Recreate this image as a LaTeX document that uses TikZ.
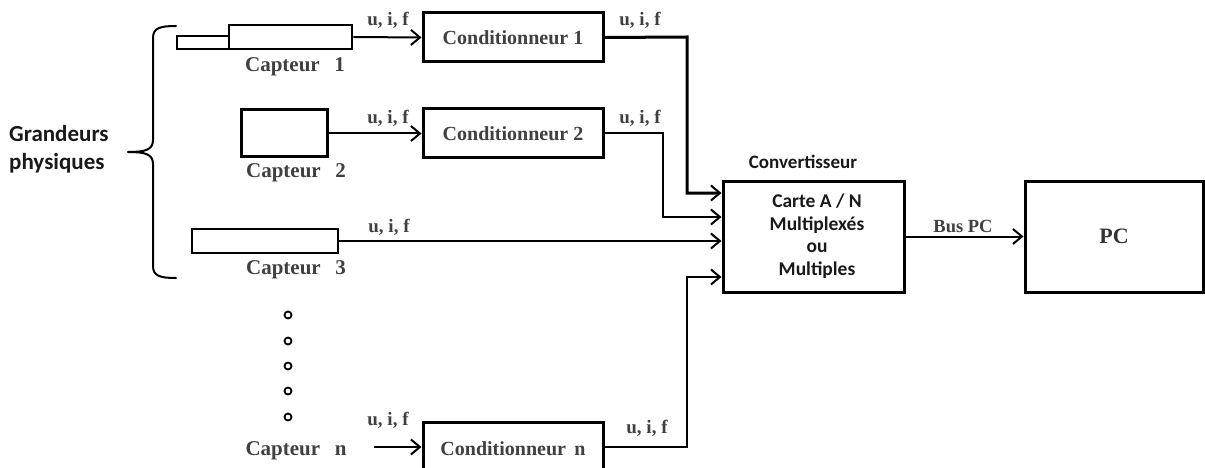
\documentclass[tikz,border=0pt]{standalone}
\usepackage{fontspec}
\setmainfont{Liberation Serif}
\newfontfamily\calib{Carlito}
\usetikzlibrary{arrows.meta,calc}

\tikzset{
  boxthick/.style={draw, line width=3pt, inner sep=0pt},
  condbox/.style={boxthick, minimum width=180pt, minimum height=49pt,
    font=\fontsize{20}{22}\selectfont\bfseries, text=black!75},
  sensorbox/.style={draw, line width=2.6pt, inner sep=0pt},
  wire/.style={line width=2pt},
  arr/.style={wire, -{Straight Barb[length=9pt,width=15pt,line width=2pt]}},
  sig/.style={font=\fontsize{19}{20}\selectfont\bfseries, text=black!75, inner sep=0pt},
  caplabel/.style={font=\fontsize{21}{22}\selectfont\bfseries, text=black!75, inner sep=0pt},
  sanslabel/.style={font=\calib\fontsize{19.5}{22.5}\selectfont\bfseries, text=black!90, inner sep=0pt},
  dot/.style={draw, circle, line width=1.8pt, minimum size=7pt, inner sep=0pt},
}

\begin{document}
\begin{tikzpicture}[x=1pt,y=-1pt]
\useasboundingbox (0,0) rectangle (1205,468);

% physical quantities and the brace that gathers the sensors
\node[sanslabel, font=\calib\fontsize{23}{28}\selectfont\bfseries, anchor=west, align=left]
  (gp) at (9,149) {Grandeurs\\physiques};
\draw[line width=2pt, line cap=round, line join=round]
  (176,26) .. controls (160,26) and (153,28) .. (153,38) -- (153,140)
  .. controls (153,150) and (145,152) .. (128,152)
  .. controls (145,152) and (153,154) .. (153,164) -- (153,266)
  .. controls (153,276) and (160,278) .. (176,278);

% sensors
\node[sensorbox, minimum width=52pt, minimum height=13pt] (s1tip) at (203,42.5) {};
\node[sensorbox, minimum width=123pt, minimum height=24pt] (s1) at (290.5,37) {};
\node[caplabel] (l1) at (295,67) {Capteur\;\, 1};

\node[sensorbox, line width=3pt, minimum width=86pt, minimum height=47pt] (s2) at (284,133.5) {};
\node[caplabel] (l2) at (296,173) {Capteur\;\, 2};

\node[sensorbox, minimum width=146pt, minimum height=24pt] (s3) at (265,241) {};
\node[caplabel] (l3) at (296,270) {Capteur\;\, 3};

\foreach \k/\yy in {1/315,2/341,3/366,4/391,5/417}
  \node[dot] (d\k) at (288,\yy) {};
\node[caplabel] (ln) at (296,451) {Capteur\;\, n};
\coordinate (nin) at (374,447);

% conditioners
\node[condbox] (c1) at (513,37.5) {Conditionneur 1};
\node[condbox] (c2) at (513,133.5) {Conditionneur 2};
\node[condbox, minimum height=54pt] (cn) at (513,449) {Conditionneur\, n};

% converter and PC
\node[boxthick, minimum width=181pt, minimum height=111pt] (conv) at (813.5,236.5) {};
\node[sanslabel, align=center] (convtxt) at (817,236)
  {Carte A / N\hspace{18pt}\\Multiplexés\\ou\\Multiples};
\node[sanslabel, font=\calib\fontsize{19}{20}\selectfont\bfseries] (convtitle) at (803,162) {Convertisseur};
\node[boxthick, minimum width=178pt, minimum height=111pt,
  font=\fontsize{22}{24}\selectfont\bfseries, text=black!80] (pc) at (1114,236.5) {PC};

% entry points on the converter
\coordinate (e1) at (conv.west |- 0,193);
\coordinate (e2) at (conv.west |- 0,217);
\coordinate (e3) at (conv.west |- 0,241);
\coordinate (e4) at (conv.west |- 0,277);
\coordinate (k1) at (687,37);
\coordinate (k2) at (663,133.5);
\coordinate (k4) at (687,447);

% sensor to conditioner links
\draw[arr] (s1.east) -- (c1.west);
\draw[arr] (s2.east) -- (c2.west);
\draw[arr] (nin) -- (cn.west |- nin);

% conditioner / sensor to converter links
\draw[arr, line width=3pt] (c1.east) -- (k1) |- (e1);
\draw[arr] (c2.east) -- (k2) |- (e2);
\draw[arr] (s3.east) -- (e3);
\draw[arr] (cn.east |- k4) -- (k4) |- (e4);
\draw[arr] (conv.east |- pc.west) -- (pc.west);

% signal labels
\node[sig] (u1) at (388,20) {u, i, f};
\node[sig] (u2) at (640,20) {u, i, f};
\node[sig] (u3) at (388,118) {u, i, f};
\node[sig] (u4) at (640,118) {u, i, f};
\node[sig] (u5) at (389,227) {u, i, f};
\node[sig] (u6) at (388,420) {u, i, f};
\node[sig] (u7) at (647,428) {u, i, f};
\node[sig, font=\fontsize{18.5}{20}\selectfont\bfseries] (bus) at (963,226) {Bus PC};
\end{tikzpicture}
\end{document}
